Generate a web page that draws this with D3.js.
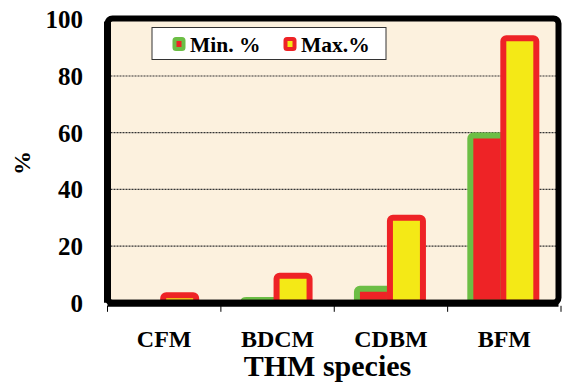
<!DOCTYPE html>
<html>
<head>
<meta charset="utf-8">
<script src="https://cdn.jsdelivr.net/npm/d3@7"></script>
<style>
	body { margin: 0; background: #fff; }
	text { font-family: "Liberation Serif", "Times New Roman", serif; font-weight: bold; }
</style>
</head>
<body>
<div id="chart"></div>
<script>
var categories = ["CFM", "BDCM", "CDBM", "BFM"];
var minValues = [0, 1, 5, 59];
var maxValues = [2.7, 9.5, 30, 93.3];
var yTicks = [0, 20, 40, 60, 80, 100];
var seriesNames = ["Min. %", "Max.%"];

var dims = {
	width: 562,
	height: 387,
	left: 107.5,
	right: 561,
	top: 18.5,
	bottom: 302.8
};

var svg = d3.select("#chart")
	.append("svg")
		.attr("width", dims.width)
		.attr("height", dims.height);

var x0 = d3.scaleBand()
	.domain(categories)
	.range([dims.left, dims.right]);

var x1 = d3.scaleBand()
	.domain(["min", "max"])
	.range([0, 66]);

var y = d3.scaleLinear()
	.domain([0, 100])
	.range([dims.bottom, dims.top + 0.8]);

var frameRight = 558.5;

// plot background
svg.append("rect")
	.attr("x", dims.left)
	.attr("y", dims.top)
	.attr("width", frameRight - dims.left)
	.attr("height", dims.bottom - dims.top)
	.attr("fill", "#fcf1de");

// gridlines
svg.append("g")
	.selectAll("line")
	.data(yTicks.filter(function(t) { return t > 0 && t < 100; }))
	.enter().append("line")
		.attr("x1", dims.left)
		.attr("x2", frameRight)
		.attr("y1", function(d) { return y(d); })
		.attr("y2", function(d) { return y(d); })
		.attr("stroke", "#333")
		.attr("stroke-width", 1.2)
		.attr("stroke-dasharray", "2,1");

var rows = categories.map(function(c, i) {
	return { cat: c, min: minValues[i], max: maxValues[i] };
});

function groupX(d) {
	return x0(d.cat) + (x0.bandwidth() - 66) / 2 - 1;
}

function drawBars(key, fill, stroke) {
	svg.append("g")
		.selectAll("rect")
		.data(rows.filter(function(d) { return d[key] > 0; }))
		.enter().append("rect")
			.attr("x", function(d) { return groupX(d) + x1(key); })
			.attr("y", function(d) { return y(d[key]); })
			.attr("width", x1.bandwidth())
			.attr("height", function(d) { return Math.max(0, y(0) - y(d[key])); })
			.attr("rx", 3)
			.attr("fill", fill)
			.attr("stroke", stroke)
			.attr("stroke-width", 6);
}

drawBars("min", "#ee2326", "#6cbe45");
drawBars("max", "#f4e916", "#ee2326");

// frame
svg.append("rect")
	.attr("x", dims.left)
	.attr("y", dims.top)
	.attr("width", frameRight - dims.left)
	.attr("height", dims.bottom - dims.top)
	.attr("rx", 5)
	.attr("fill", "none")
	.attr("stroke", "#000")
	.attr("stroke-width", 6);

svg.append("line")
	.attr("x1", dims.left)
	.attr("x2", frameRight)
	.attr("y1", dims.bottom + 0.5)
	.attr("y2", dims.bottom + 0.5)
	.attr("stroke", "#000")
	.attr("stroke-width", 7);

svg.append("line")
	.attr("x1", dims.left)
	.attr("x2", dims.left)
	.attr("y1", dims.top + 3)
	.attr("y2", dims.bottom)
	.attr("stroke", "#000")
	.attr("stroke-width", 7);

// x axis ticks
var tickXs = categories.map(function(c) { return x0(c); }).concat([dims.right]);
svg.append("g")
	.selectAll("line")
	.data(tickXs)
	.enter().append("line")
		.attr("x1", function(d) { return d; })
		.attr("x2", function(d) { return d; })
		.attr("y1", dims.bottom + 3)
		.attr("y2", dims.bottom + 9)
		.attr("stroke", "#000")
		.attr("stroke-width", 1);

// y tick labels
svg.append("g")
	.selectAll("text")
	.data(yTicks)
	.enter().append("text")
		.attr("x", 83)
		.attr("y", function(d) { return y(d) + 9; })
		.attr("text-anchor", "end")
		.attr("font-size", 25)
		.text(function(d) { return d; });

// category labels
svg.append("g")
	.selectAll("text")
	.data(categories)
	.enter().append("text")
		.attr("x", function(d) { return x0(d) + x0.bandwidth() / 2; })
		.attr("y", 347)
		.attr("text-anchor", "middle")
		.attr("font-size", 24)
		.text(function(d) { return d; });

svg.append("text")
	.attr("x", 327.5)
	.attr("y", 376)
	.attr("text-anchor", "middle")
	.attr("font-size", 30)
	.text("THM species");

svg.append("text")
	.attr("transform", "translate(30,163) rotate(-90)")
	.attr("text-anchor", "middle")
	.attr("font-size", 24)
	.text("%");

// legend
var legend = svg.append("g");
legend.append("rect")
	.attr("x", 152)
	.attr("y", 27.5)
	.attr("width", 234)
	.attr("height", 32)
	.attr("fill", "#fff")
	.attr("stroke", "#333")
	.attr("stroke-width", 1);

var legendItems = [
	{ name: seriesNames[0], x: 172, fill: "#ee2326", stroke: "#6cbe45" },
	{ name: seriesNames[1], x: 283, fill: "#f4e916", stroke: "#ee2326" }
];

legendItems.forEach(function(l) {
	legend.append("rect")
		.attr("x", l.x + 2.5)
		.attr("y", 39)
		.attr("width", 9)
		.attr("height", 10)
		.attr("rx", 1.5)
		.attr("fill", l.fill)
		.attr("stroke", l.stroke)
		.attr("stroke-width", 4);
	legend.append("text")
		.attr("x", l.x + 18)
		.attr("y", 51.5)
		.attr("font-size", 21.5)
		.text(l.name);
});
</script>
</body>
</html>
